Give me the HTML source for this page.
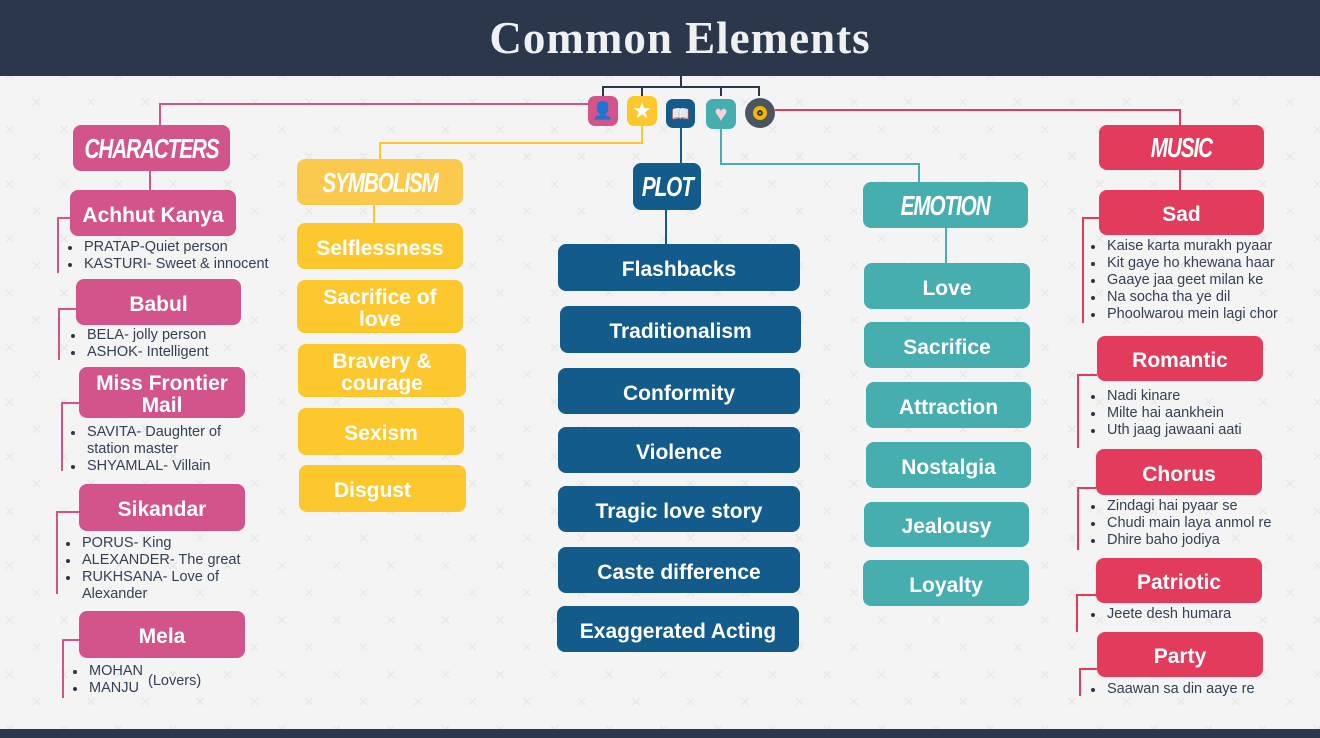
<!DOCTYPE html>
<html><head><meta charset="utf-8"><style>
*{margin:0;padding:0;box-sizing:border-box}
body{width:1320px;height:738px;overflow:hidden;background:#f4f4f4;font-family:"Liberation Sans",sans-serif;position:relative}
.hdr{position:absolute;left:0;top:0;width:1320px;height:76px;background:#2b374b}
.title{position:absolute;left:0;top:12px;width:1360px;text-align:center;font-family:"Liberation Serif",serif;font-weight:bold;font-size:45px;color:#eef0f2;letter-spacing:1px}
.foot{position:absolute;left:0;top:729px;width:1320px;height:9px;background:#2b374b}
.b{position:absolute;border-radius:8px;color:#fff;font-weight:bold;font-size:21px;display:flex;align-items:center;justify-content:center;text-align:center;line-height:22px;padding-top:5px}
.h{font-style:italic;font-size:28px;letter-spacing:-1.5px;padding-top:1px}
.h span{display:inline-block;transform:scaleX(0.74)}
.pk{background:#d2548a}.yl{background:#fcc82e}.yh{background:#fcc94f}.bl{background:#125b8a}.tl{background:#46aeae}.rd{background:#e23b5b}
ul{position:absolute;font-size:14.5px;color:#344054;line-height:17px;list-style:none}
ul li{position:relative;padding-left:20px}
ul li:before{content:"";position:absolute;left:4px;top:7px;width:4px;height:4px;border-radius:2px;background:#2b374b}
.ic{position:absolute;width:30px;height:30px;border-radius:7px;display:flex;align-items:center;justify-content:center;font-size:17px}
</style></head><body>
<svg width="1320" height="738" style="position:absolute;left:0;top:0">
<defs><pattern id="p" width="54.5" height="54.5" patternUnits="userSpaceOnUse" x="-9" y="2"><g stroke="#e8e8e8" stroke-width="1.5"><path d="M15 15l7 7M22 15l-7 7"/><path d="M42 42l7 7M49 42l-7 7"/></g></pattern></defs>
<rect x="0" y="76" width="1320" height="653" fill="url(#p)"/>
<g fill="none" stroke-width="2">
<path d="M681 76V87M603 96V87H759V96M642 87V96M721 87V96" stroke="#2b374b"/>
<path d="M588 104H160V125M150 171V190" stroke="#d2548a"/>
<path d="M70 218H58V273M76 309H59V360M79 403H62V471M79 512H57V594M79 640H63V698" stroke="#d2548a"/>
<path d="M642 126V143H380V159M374 205V223" stroke="#fcc82e"/>
<path d="M681 126V163M666 210V244" stroke="#125b8a"/>
<path d="M721 128V164H919V182M946 228V263" stroke="#46aeae"/>
<path d="M775 110H1180V125M1180 170V190" stroke="#e23b5b"/>
<path d="M1099 218H1083V323M1097 375H1078V448M1096 488H1078V550M1096 595H1077V632M1097 669H1080V696" stroke="#e23b5b"/>
</g></svg>
<div class="hdr"></div><div class="title">Common Elements</div><div class="foot"></div>

<div class="ic pk" style="left:588px;top:96px">👤</div>
<div class="ic" style="left:627px;top:96px;background:#fcc82e;color:#fff;font-size:22px">★</div>
<div class="ic bl" style="left:666px;top:99px;width:29px;height:29px;font-size:15px">📖</div>
<div class="ic tl" style="left:706px;top:99px;color:#fcd0da;font-size:22px">♥</div>
<div class="ic" style="left:745px;top:98px;border-radius:50%;background:#4a5560"><div style="width:14px;height:14px;border-radius:50%;background:#f5b400;border:4px solid #f5b400;box-shadow:inset 0 0 0 2px #2b374b"></div></div>

<div class="b pk h" style="left:73px;top:125px;width:157px;height:46px"><span>CHARACTERS</span></div>
<div class="b pk" style="left:70px;top:190px;width:166px;height:46px">Achhut Kanya</div>
<ul style="left:64px;top:239px"><li>PRATAP-Quiet person</li><li>KASTURI- Sweet &amp; innocent</li></ul>
<div class="b pk" style="left:76px;top:279px;width:165px;height:46px">Babul</div>
<ul style="left:67px;top:327px"><li>BELA- jolly person</li><li>ASHOK- Intelligent</li></ul>
<div class="b pk" style="left:79px;top:367px;width:166px;height:51px">Miss Frontier<br>Mail</div>
<ul style="left:67px;top:424px;width:180px"><li>SAVITA- Daughter of station master</li><li>SHYAMLAL- Villain</li></ul>
<div class="b pk" style="left:79px;top:484px;width:166px;height:47px">Sikandar</div>
<ul style="left:62px;top:535px;width:190px"><li>PORUS- King</li><li>ALEXANDER- The great</li><li>RUKHSANA- Love of Alexander</li></ul>
<div class="b pk" style="left:79px;top:611px;width:166px;height:47px">Mela</div>
<ul style="left:69px;top:663px"><li>MOHAN</li><li>MANJU</li></ul>
<div style="position:absolute;left:148px;top:673px;font-size:14.5px;color:#344054">(Lovers)</div>

<div class="b yh h" style="left:297px;top:159px;width:166px;height:46px"><span>SYMBOLISM</span></div>
<div class="b yl" style="left:297px;top:223px;width:166px;height:46px">Selflessness</div>
<div class="b yl" style="left:297px;top:280px;width:166px;height:53px">Sacrifice of<br>love</div>
<div class="b yl" style="left:298px;top:344px;width:168px;height:53px">Bravery &amp;<br>courage</div>
<div class="b yl" style="left:298px;top:408px;width:166px;height:47px">Sexism</div>
<div class="b yl" style="left:299px;top:465px;width:167px;height:47px;justify-content:flex-start;padding-left:35px">Disgust</div>

<div class="b bl h" style="left:633px;top:163px;width:68px;height:47px"><span>PLOT</span></div>
<div class="b bl" style="left:558px;top:244px;width:242px;height:47px">Flashbacks</div>
<div class="b bl" style="left:560px;top:306px;width:241px;height:47px">Traditionalism</div>
<div class="b bl" style="left:558px;top:368px;width:242px;height:46px">Conformity</div>
<div class="b bl" style="left:558px;top:427px;width:242px;height:46px">Violence</div>
<div class="b bl" style="left:558px;top:486px;width:242px;height:46px">Tragic love story</div>
<div class="b bl" style="left:558px;top:547px;width:242px;height:46px">Caste difference</div>
<div class="b bl" style="left:557px;top:606px;width:242px;height:46px">Exaggerated Acting</div>

<div class="b tl h" style="left:863px;top:182px;width:165px;height:46px"><span>EMOTION</span></div>
<div class="b tl" style="left:864px;top:263px;width:166px;height:46px">Love</div>
<div class="b tl" style="left:864px;top:322px;width:166px;height:46px">Sacrifice</div>
<div class="b tl" style="left:866px;top:382px;width:165px;height:46px">Attraction</div>
<div class="b tl" style="left:866px;top:442px;width:165px;height:46px">Nostalgia</div>
<div class="b tl" style="left:864px;top:502px;width:165px;height:45px">Jealousy</div>
<div class="b tl" style="left:863px;top:560px;width:166px;height:46px">Loyalty</div>

<div class="b rd h" style="left:1099px;top:125px;width:165px;height:45px"><span>MUSIC</span></div>
<div class="b rd" style="left:1099px;top:190px;width:165px;height:45px">Sad</div>
<ul style="left:1087px;top:238px"><li>Kaise karta murakh pyaar</li><li>Kit gaye ho khewana haar</li><li>Gaaye jaa geet milan ke</li><li>Na socha tha ye dil</li><li>Phoolwarou mein lagi chor</li></ul>
<div class="b rd" style="left:1097px;top:336px;width:166px;height:45px">Romantic</div>
<ul style="left:1087px;top:388px"><li>Nadi kinare</li><li>Milte hai aankhein</li><li>Uth jaag jawaani aati</li></ul>
<div class="b rd" style="left:1096px;top:449px;width:166px;height:46px">Chorus</div>
<ul style="left:1087px;top:498px"><li>Zindagi hai pyaar se</li><li>Chudi main laya anmol re</li><li>Dhire baho jodiya</li></ul>
<div class="b rd" style="left:1096px;top:558px;width:166px;height:45px">Patriotic</div>
<ul style="left:1087px;top:606px"><li>Jeete desh humara</li></ul>
<div class="b rd" style="left:1097px;top:632px;width:166px;height:45px">Party</div>
<ul style="left:1087px;top:681px"><li>Saawan sa din aaye re</li></ul>
</body></html>
